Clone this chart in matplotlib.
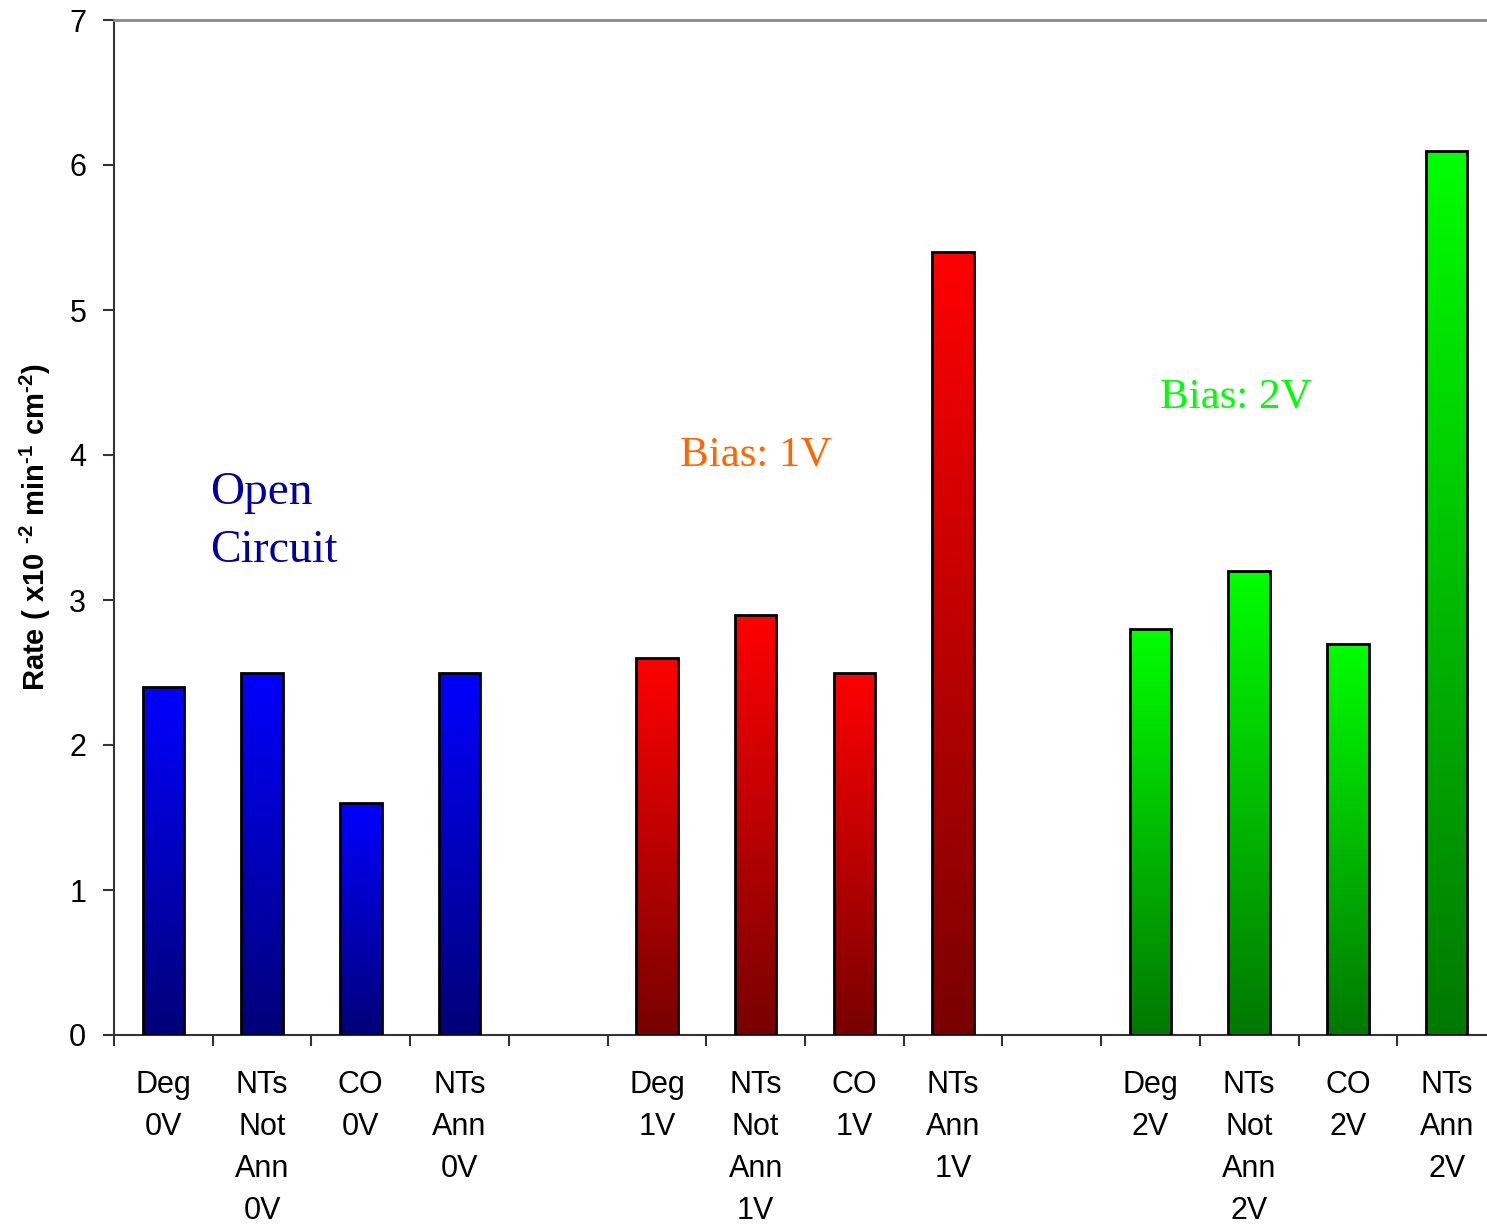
import matplotlib.pyplot as plt
import numpy as np
from matplotlib.colors import LinearSegmentedColormap

plt.rcParams['mathtext.fontset'] = 'custom'
plt.rcParams['mathtext.rm'] = 'Liberation Sans:bold'

# slots: 4 bars, gap, 4 bars, gap, 4 bars
labels_0v = ['Deg\n0V', 'NTs\nNot\nAnn\n0V', 'CO\n0V', 'NTs\nAnn\n0V']
labels_1v = ['Deg\n1V', 'NTs\nNot\nAnn\n1V', 'CO\n1V', 'NTs\nAnn\n1V']
labels_2v = ['Deg\n2V', 'NTs\nNot\nAnn\n2V', 'CO\n2V', 'NTs\nAnn\n2V']
rate_0v = [2.4, 2.5, 1.6, 2.5]
rate_1v = [2.6, 2.9, 2.5, 5.4]
rate_2v = [2.8, 3.2, 2.7, 6.1]

groups = [
    (labels_0v, rate_0v, '#0000ff', '#000078'),
    (labels_1v, rate_1v, '#ff0000', '#780000'),
    (labels_2v, rate_2v, '#00ff00', '#007800'),
]

fig = plt.figure(figsize=(14.87, 12.25), dpi=100)
ax = fig.add_axes([114 / 1487, 190 / 1225, 1382 / 1487, 1015 / 1225])

grad = np.linspace(0, 1, 256).reshape(-1, 1)
tick_pos, tick_lab = [], []
for g, (labs, vals, top, bot) in enumerate(groups):
    x = np.arange(len(vals)) + g * 5
    tick_pos += list(x)
    tick_lab += labs
    bars = ax.bar(x, vals, width=0.42, color='none', edgecolor='black', linewidth=2, zorder=3)
    cmap = LinearSegmentedColormap.from_list('g%d' % g, [bot, top])
    for b in bars:
        x0, y0 = b.get_x(), b.get_y()
        im = ax.imshow(grad, cmap=cmap, origin='lower', aspect='auto',
                       extent=[x0, x0 + b.get_width(), y0, y0 + b.get_height()], zorder=2)
        im.set_clip_path(b)

ax.set_xlim(-0.5, 13.5)
ax.set_ylim(0, 7)
ax.set_yticks(range(8))
ax.set_xticks(np.arange(-0.5, 14, 1))
ax.set_xticklabels([])
ax.set_xticks(tick_pos, minor=True)
ax.set_xticklabels(tick_lab, minor=True, linespacing=1.52)
ax.tick_params(axis='x', which='major', direction='out', length=8, width=1.5, color='#333333')
ax.tick_params(axis='x', which='minor', length=0, pad=25, labelsize=22)
ax.tick_params(axis='y', direction='out', length=8, width=1.5, color='#333333', labelsize=22, pad=12)
for lab in ax.get_xticklabels(minor=True):
    lab.set_verticalalignment('top')
    lab.set_fontfamily('Liberation Sans')
for lab in ax.get_yticklabels():
    lab.set_fontfamily('Liberation Sans')

ax.spines['left'].set_color('#333333')
ax.spines['left'].set_linewidth(1.5)
ax.spines['bottom'].set_color('#333333')
ax.spines['bottom'].set_linewidth(1.5)
ax.spines['top'].set_color('#888888')
ax.spines['top'].set_linewidth(2)
ax.spines['right'].set_visible(False)

ax.set_ylabel('Rate ( x10$\\ ^{\\text{-2}}\\ $min$^{\\text{-1}}\\ $cm$^{\\text{-2}}$)',
              fontsize=21, fontweight='bold', family='Liberation Sans')
ax.yaxis.set_label_coords(-0.044, 0.5)

ax.text(0.47, 3.74, 'Open', color='#0000a0', fontsize=34, family='Liberation Serif', va='center')
ax.text(0.47, 3.34, 'Circuit', color='#0000a0', fontsize=33, family='Liberation Serif', va='center')
ax.text(5.23, 4.0, 'Bias: 1V', color='#ff6600', fontsize=31, family='Liberation Serif', va='center')
ax.text(10.1, 4.4, 'Bias: 2V', color='#00ff00', fontsize=31, family='Liberation Serif', va='center')

fig.savefig('out.png', dpi=100)
